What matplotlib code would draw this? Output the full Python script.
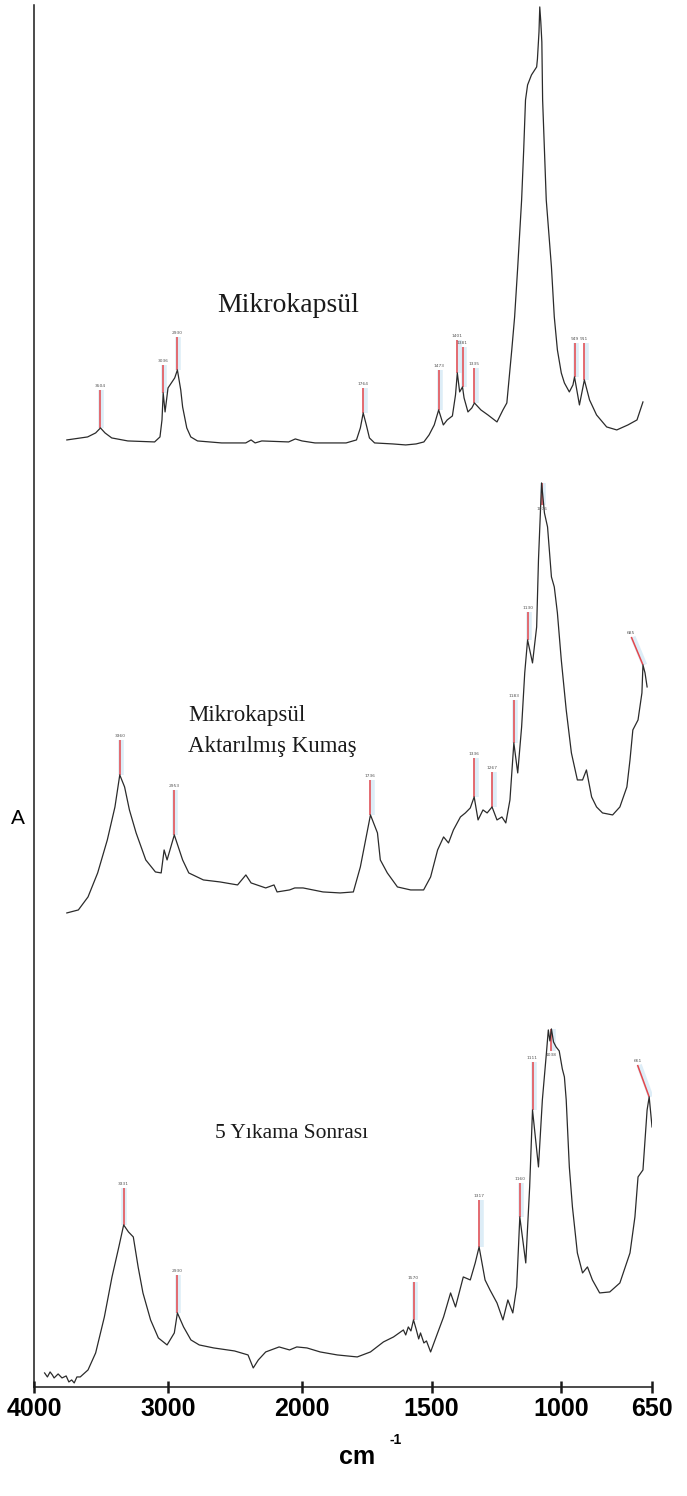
import numpy as np
import matplotlib
matplotlib.use("Agg")
import matplotlib.pyplot as plt
from matplotlib.ticker import NullLocator

# --- FTIR spectra (wavenumber in cm-1, absorbance in arbitrary units above each baseline) ---
mk_wn = [3755, 3600, 3540, 3504, 3470, 3420, 3300, 3100, 3060, 3045,
         3036, 3022, 3000, 2975, 2950, 2930, 2905, 2891, 2860, 2830,
         2780, 2600, 2420, 2380, 2350, 2300, 2100, 2050, 2000, 1950,
         1830, 1790, 1775, 1764, 1752, 1740, 1720, 1650, 1600, 1560,
         1530, 1510, 1490, 1473, 1455, 1440, 1420, 1408, 1401, 1392,
         1381, 1375, 1360, 1345, 1335, 1310, 1283, 1248, 1225, 1210,
         1191, 1180, 1168, 1153, 1145, 1138, 1130, 1115, 1095, 1092,
         1086, 1083, 1079, 1075, 1072, 1065, 1058, 1038, 1027, 1015,
         1000, 988, 969, 955, 949, 930, 911, 891, 864, 825,
         786, 743, 708, 685]
mk_abs = [7, 10, 14, 19, 14, 9, 6, 5, 10, 27,
          54, 35, 59, 64, 69, 77, 57, 40, 19, 10,
          6, 4, 4, 7, 4, 6, 5, 8, 6, 4,
          4, 7, 19, 34, 22, 9, 4, 3, 2, 3,
          5, 12, 22, 37, 22, 27, 31, 52, 74, 55,
          60, 49, 35, 39, 44, 37, 32, 25, 37, 44,
          97, 130, 180, 247, 297, 347, 362, 372, 380, 388,
          415, 440, 425, 405, 347, 297, 247, 180, 130, 97,
          74, 64, 55, 62, 70, 42, 67, 47, 32, 20,
          17, 22, 27, 45]

fab_wn = [3755, 3669, 3597, 3525, 3453, 3396, 3360, 3324, 3288, 3238,
          3166, 3094, 3051, 3029, 3007, 2953, 2891, 2845, 2736, 2612,
          2481, 2419, 2380, 2271, 2209, 2186, 2093, 2054, 1996, 1919,
          1853, 1802, 1775, 1736, 1709, 1698, 1671, 1632, 1581, 1531,
          1504, 1477, 1454, 1435, 1416, 1389, 1370, 1351, 1336, 1321,
          1302, 1286, 1267, 1248, 1229, 1214, 1198, 1183, 1168, 1153,
          1141, 1130, 1111, 1095, 1088, 1076, 1065, 1053, 1038, 1027,
          1015, 1000, 981, 961, 938, 918, 903, 883, 864, 841,
          802, 774, 747, 735, 724, 704, 689, 685, 677, 669]
fab_abs = [4, 7, 20, 44, 77, 110, 142, 130, 107, 84,
           57, 45, 44, 67, 57, 82, 57, 44, 37, 35,
           32, 42, 34, 29, 32, 25, 27, 29, 29, 25,
           24, 25, 50, 102, 84, 57, 44, 30, 27, 27,
           40, 67, 80, 74, 87, 100, 104, 109, 120, 97,
           107, 104, 110, 97, 100, 94, 117, 174, 144, 190,
           244, 277, 254, 290, 357, 434, 404, 390, 340, 330,
           304, 257, 207, 164, 137, 137, 147, 120, 110, 104,
           102, 110, 130, 157, 187, 197, 224, 252, 244, 230]

wash_wn = [3921, 3900, 3880, 3863, 3850, 3820, 3791, 3760, 3740, 3719,
           3700, 3680, 3655, 3597, 3540, 3475, 3418, 3367, 3331, 3295,
           3259, 3223, 3187, 3130, 3072, 3007, 2953, 2930, 2884, 2829,
           2767, 2659, 2504, 2403, 2364, 2326, 2271, 2171, 2093, 2039,
           1981, 1930, 1864, 1787, 1736, 1686, 1647, 1609, 1600, 1590,
           1580, 1570, 1560, 1550, 1543, 1530, 1520, 1504, 1477, 1454,
           1427, 1408, 1378, 1351, 1332, 1317, 1294, 1275, 1248, 1225,
           1206, 1187, 1172, 1160, 1137, 1122, 1111, 1088, 1073, 1057,
           1050, 1044, 1038, 1030, 1020, 1008, 996, 988, 981, 969,
           957, 938, 918, 899, 880, 852, 813, 774, 735, 716,
           704, 685, 669, 661, 650]
wash_abs = [14, 10, 15, 12, 9, 13, 9, 11, 5, 7,
            4, 10, 10, 17, 34, 70, 110, 140, 162, 155,
            150, 120, 94, 67, 49, 42, 54, 74, 60, 47,
            42, 39, 36, 32, 19, 27, 35, 40, 37, 40,
            39, 35, 32, 30, 35, 45, 50, 57, 52, 60,
            56, 67, 58, 48, 54, 44, 46, 35, 54, 70,
            94, 80, 110, 107, 124, 140, 107, 97, 84, 67,
            87, 74, 100, 170, 124, 200, 277, 220, 287, 335,
            357, 346, 358, 345, 340, 336, 318, 310, 287, 220,
            180, 134, 114, 120, 107, 94, 95, 104, 134, 170,
            210, 217, 277, 290, 260]

# vertical stacking of the three spectra
offsets = [940, 470, 0]
names = ["Mikrokapsül", "Mikrokapsül\nAktarılmış Kumaş", "5 Yıkama Sonrası"]

# marked peaks, length of the marker stem and sideways lean (cm-1) of the stem
mk_peaks = [3504, 3036, 2930, 1764, 1473, 1401, 1381, 1335, 949, 911]
mk_stems = [38, 28, 33, 25, 40, 33, 40, 35, 34, 37]
mk_lean = [0] * 10
fab_peaks = [3360, 2953, 1736, 1336, 1267, 1183, 1130, 1076, 685]
fab_stems = [35, 45, 35, 39, 35, 43, 28, -22, 28]
fab_lean = [0, 0, 0, 0, 0, 0, 0, 0, 45]
wash_peaks = [3331, 2930, 1570, 1317, 1160, 1111, 1038, 661]
wash_stems = [37, 38, 38, 47, 34, 48, -22, 32]
wash_lean = [0, 0, 0, 0, 0, 0, 0, 45]

tick_wn = [4000, 3000, 2000, 1500, 1000, 650]

# FTIR axis: 2000-650 cm-1 is drawn at about twice the scale of 4000-2000
scale_wn = [650, 2000, 4000]
scale_pos = [0.0, 350.0, 618.0]


def fwd(w):
    return np.interp(w, scale_wn, scale_pos)


def inv(p):
    return np.interp(p, scale_pos, scale_wn)


fig = plt.figure(figsize=(6.87, 14.96), dpi=100)
ax = fig.add_axes([0.0495, 0.0729, 0.8996, 0.9238])
ax.set_xscale("function", functions=(fwd, inv))
ax.set_xlim(4000, 650)
ax.set_ylim(0, 1382)

spectra = [(mk_wn, mk_abs, mk_peaks, mk_stems, mk_lean),
           (fab_wn, fab_abs, fab_peaks, fab_stems, fab_lean),
           (wash_wn, wash_abs, wash_peaks, wash_stems, wash_lean)]

red = "#e4474c"
for (wn, ab, peaks, stems, lean), off in zip(spectra, offsets):
    wn = np.array(wn, dtype=float)
    y = np.array(ab, dtype=float) + off
    ax.plot(wn, y, color="#2b2b2b", lw=0.9, zorder=3)
    for p, s, dx in zip(peaks, stems, lean):
        yp = np.interp(p, wn[::-1], y[::-1])
        ax.plot([p - 6, p + dx - 6], [yp, yp + s], color="#cfe6f4", lw=4,
                alpha=0.7, zorder=1, solid_capstyle="butt")
        ax.plot([p, p + dx], [yp, yp + s], color=red, lw=1.1, zorder=2,
                solid_capstyle="butt")
        ax.text(p + dx, yp + s + (2 if s > 0 else -2), f"{p}",
                ha="center", va="bottom" if s > 0 else "top",
                fontsize=3.2, color="#555555", zorder=4)

for sp in ["top", "right"]:
    ax.spines[sp].set_visible(False)
for sp in ["left", "bottom"]:
    ax.spines[sp].set_linewidth(1.1)
    ax.spines[sp].set_color("#1a1a1a")

ax.set_yticks([])
ax.set_xticks(tick_wn)
ax.set_xticklabels([str(t) for t in tick_wn], fontsize=18, fontweight="bold",
                   family="Liberation Sans")
ax.xaxis.set_minor_locator(NullLocator())
ax.tick_params(axis="x", direction="inout", length=9, width=1.8, pad=3,
               color="#1a1a1a")

fig.text(0.52, 1 - 1457 / 1496, "cm", ha="center", va="center", fontsize=18,
         fontweight="bold", family="Liberation Sans")
fig.text(0.576, 1 - 1440 / 1496, "-1", ha="center", va="center", fontsize=10,
         fontweight="bold", family="Liberation Sans")
fig.text(0.026, 1 - 818 / 1496, "A", ha="center", va="center", fontsize=15,
         family="Liberation Sans")

serif = dict(family="Liberation Serif", color="#1a1a1a")
fig.text(0.419, 1 - 305 / 1496, names[0], ha="center", va="center",
         fontsize=20, **serif)
fig.text(0.274, 1 - 731 / 1496, names[1], ha="left", va="center",
         fontsize=16.5, linespacing=1.6, **serif)
fig.text(0.313, 1 - 1133 / 1496, names[2], ha="left", va="center",
         fontsize=15.5, **serif)

fig.savefig("out.png", dpi=100, facecolor="white")
